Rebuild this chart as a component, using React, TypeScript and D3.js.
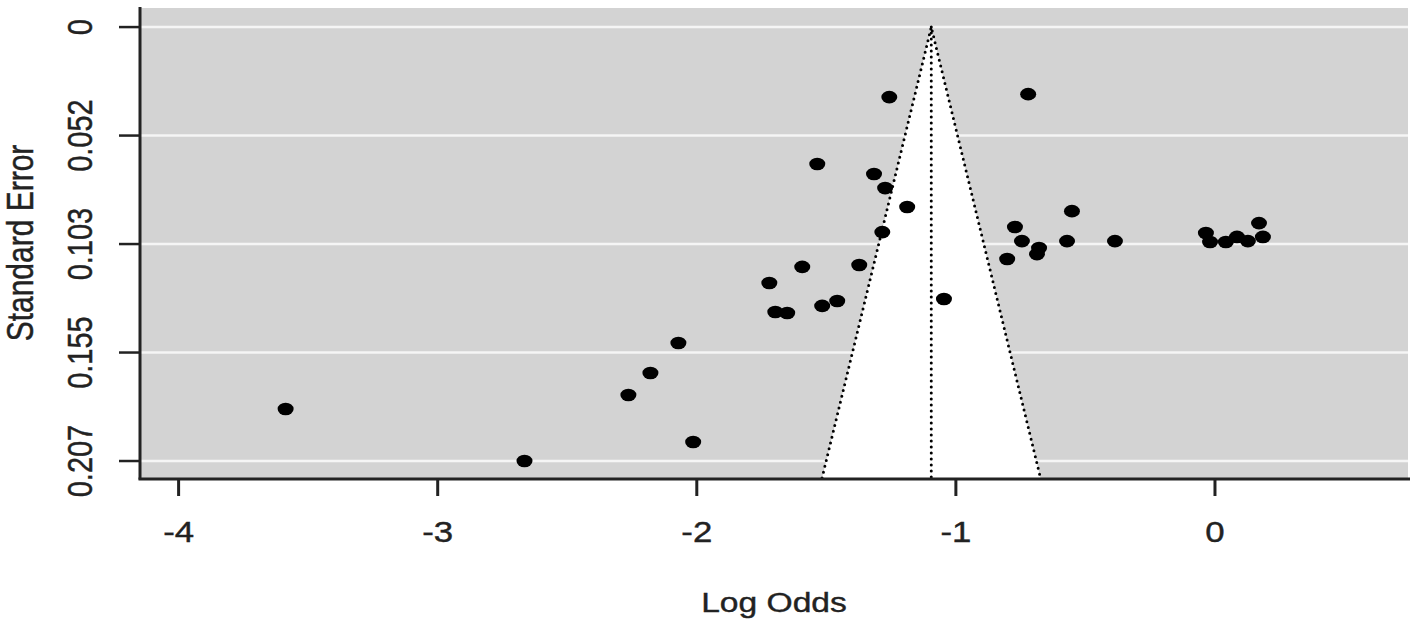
import React from 'react';
import * as d3 from 'd3';

// funnel plot: log odds vs standard error
const logOdds = [
  -0.721, -1.257, -1.535, -1.316, -1.273, -1.188, -1.284, -0.552, -0.772, -0.745,
  -0.679, -0.687, -0.571, -0.802, -1.593, -1.373, -1.72, -1.458, -1.516, -1.697,
  -1.651, -1.046, -0.386, -0.035, -0.019, 0.042, 0.085, 0.127, 0.17, 0.185,
  -3.587, -2.071, -2.179, -2.264, -2.014, -2.665
];
const stdErr = [
  0.032, 0.0334, 0.0653, 0.0701, 0.0768, 0.0858, 0.0978, 0.0878, 0.0954, 0.1021,
  0.1054, 0.1083, 0.1021, 0.1106, 0.1144, 0.1135, 0.1221, 0.1307, 0.133, 0.1359,
  0.1364, 0.1297, 0.1021, 0.0982, 0.1025, 0.1025, 0.1001, 0.1021, 0.0935, 0.1001,
  0.1822, 0.1507, 0.165, 0.1755, 0.1979, 0.207
];
const estimate = -1.095;
const xTicks = [-4, -3, -2, -1, 0];
const yTicks = [0, 0.05175, 0.1035, 0.15525, 0.207];
const yTickLabels = ['0', '0.052', '0.103', '0.155', '0.207'];

const W = 1418;
const H = 626;
const plot = { left: 140, right: 1408, top: 8, bottom: 478 };
const FONT = '"Liberation Sans", Arial, sans-serif';
const STRETCH = 1.2; // text in the picture is a bit wider than tall

export default function App() {
  const x = d3.scaleLinear().domain([-4.149, 0.745]).range([plot.left, plot.right]);
  const y = d3.scaleLinear().domain([-0.0091, 0.2151]).range([plot.top, plot.bottom]);

  const seMax = y.domain()[1];
  const funnel = [
    [x(estimate), y(0)],
    [x(estimate - 1.96 * seMax), y(seMax)],
    [x(estimate + 1.96 * seMax), y(seMax)]
  ];
  const lineGen = d3.line();

  const dotted = {
    stroke: '#000',
    strokeWidth: 3,
    strokeDasharray: '0 6',
    strokeLinecap: 'round' as const,
    fill: 'none'
  };

  const textStyle = {
    fontFamily: FONT,
    fill: '#222',
    stroke: '#222',
    strokeWidth: 0.4
  };

  return (
    <svg
      width={W}
      height={H}
      style={{ position: 'absolute', left: 0, top: 0, background: '#fff' }}
    >
      {/* background */}
      <rect
        x={plot.left}
        y={plot.top}
        width={plot.right - plot.left}
        height={plot.bottom - plot.top}
        fill="#d3d3d3"
      />
      {/* grid */}
      {yTicks.map((t, i) => (
        <line
          key={i}
          x1={plot.left}
          x2={plot.right}
          y1={y(t)}
          y2={y(t)}
          stroke="#f5f5f5"
          strokeWidth={2.5}
        />
      ))}
      {/* funnel */}
      <path d={lineGen(funnel as [number, number][]) + 'Z'} fill="#fff" />
      <path d={lineGen([funnel[1], funnel[0], funnel[2]] as [number, number][]) || ''} {...dotted} />
      <line x1={x(estimate)} x2={x(estimate)} y1={y(0)} y2={y(seMax)} {...dotted} />

      {/* points */}
      {logOdds.map((v, i) => (
        <ellipse key={i} cx={x(v)} cy={y(stdErr[i])} rx={8} ry={6.3} fill="#000" />
      ))}

      {/* axes lines */}
      <line x1={plot.left} x2={plot.left} y1={plot.top - 1} y2={plot.bottom + 1.5} stroke="#222" strokeWidth={3} />
      <line x1={plot.left - 1.5} x2={plot.right + 2} y1={plot.bottom + 1} y2={plot.bottom + 1} stroke="#222" strokeWidth={3} />

      {/* x axis */}
      {xTicks.map((t, i) => (
        <g key={i}>
          <line x1={x(t)} x2={x(t)} y1={plot.bottom + 1} y2={plot.bottom + 18} stroke="#222" strokeWidth={3} />
          <text
            transform={`translate(${x(t)},542) scale(${STRETCH},1)`}
            textAnchor="middle"
            fontSize={29}
            {...textStyle}
          >
            {t}
          </text>
        </g>
      ))}
      <text
        transform={`translate(${(plot.left + plot.right) / 2},612) scale(${STRETCH},1)`}
        textAnchor="middle"
        fontSize={28}
        {...textStyle}
      >
        Log Odds
      </text>

      {/* y axis */}
      {yTicks.map((t, i) => (
        <g key={i}>
          <line x1={plot.left - 21} x2={plot.left} y1={y(t)} y2={y(t)} stroke="#222" strokeWidth={2.5} />
          <text
            transform={`translate(92,${y(t)}) scale(${STRETCH},1) rotate(-90)`}
            textAnchor="middle"
            fontSize={29}
            {...textStyle}
          >
            {yTickLabels[i]}
          </text>
        </g>
      ))}
      <text
        transform={`translate(33,${(plot.top + plot.bottom) / 2}) scale(${STRETCH},1) rotate(-90)`}
        textAnchor="middle"
        fontSize={30}
        {...textStyle}
      >
        Standard Error
      </text>
    </svg>
  );
}
